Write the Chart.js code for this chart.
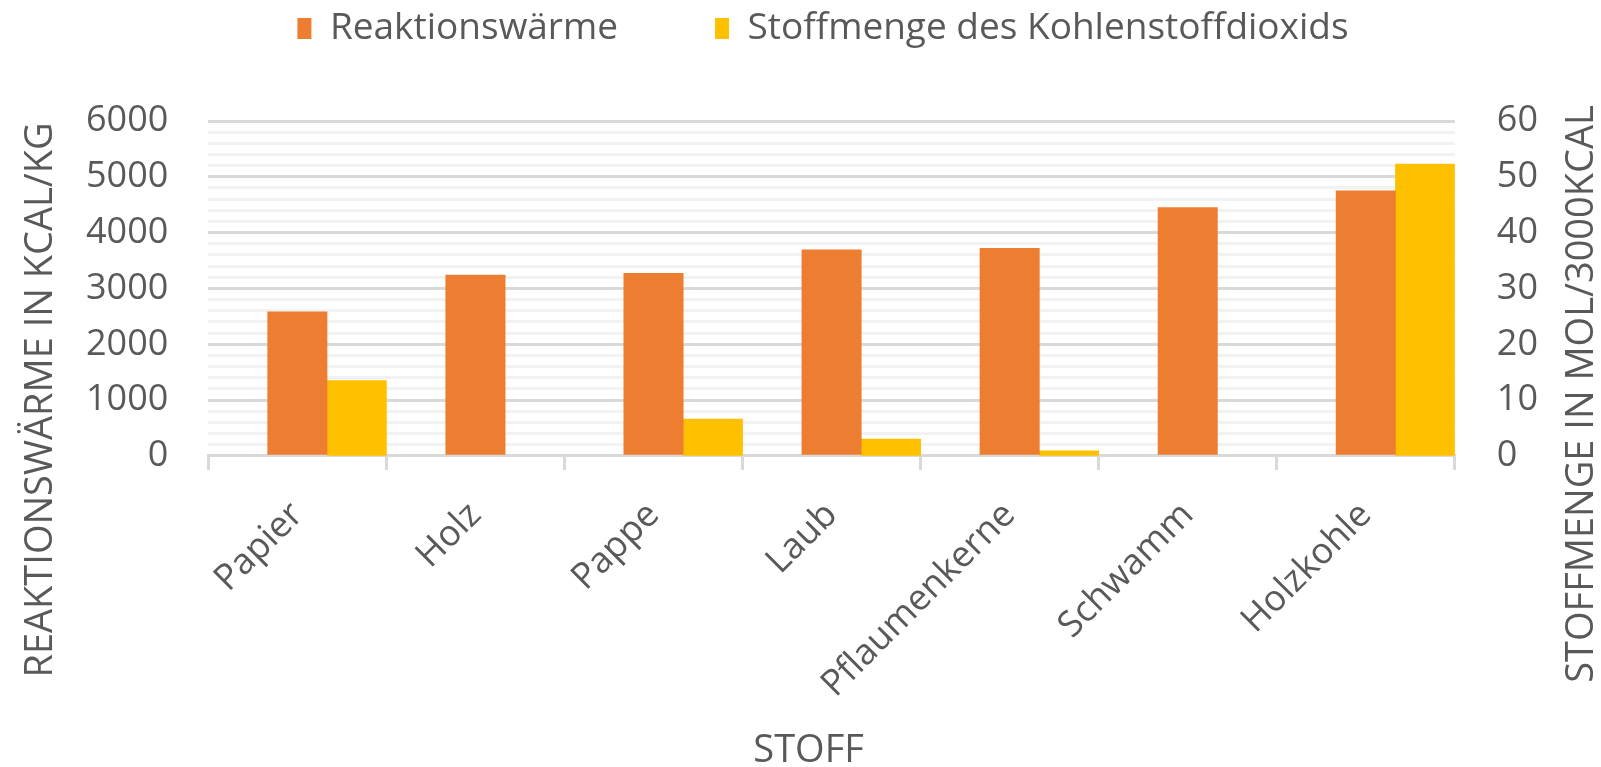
<!DOCTYPE html>
<html lang="de">
<head>
<meta charset="utf-8">
<title>Reaktionswärme und Stoffmenge</title>
<script src="https://cdn.jsdelivr.net/npm/chart.js@4.4.1/dist/chart.umd.min.js"></script>
<style>
    html, body { margin: 0; padding: 0; background: #ffffff; }
    #wrap { width: 1601px; height: 767px; }
</style>
</head>
<body>
<div id="wrap"><canvas id="stoff-chart"></canvas></div>
<script>
const kategorien = ["Papier", "Holz", "Pappe", "Laub", "Pflaumenkerne", "Schwamm", "Holzkohle"];
const reaktionswaerme = [2580, 3240, 3270, 3690, 3720, 4450, 4750];
const kohlendioxid = [13.5, null, 6.6, 3.0, 0.9, null, 52.3];
// leere Reihe, belegt wie im Original den ersten Platz jeder Gruppe
const leer = [null, null, null, null, null, null, null];

const linksTicks = [0, 1000, 2000, 3000, 4000, 5000, 6000];
const rechtsTicks = [0, 10, 20, 30, 40, 50, 60];

const titelLinks = "REAKTIONSWÄRME IN KCAL/KG";
const titelRechts = "STOFFMENGE IN MOL/3000KCAL";
const titelUnten = "STOFF";

Chart.defaults.font.size = 36;
Chart.defaults.font.family = "Open Sans";
Chart.defaults.color = "#595959";
Chart.defaults.animation = false;
Chart.defaults.plugins.tooltip.enabled = false;

// Abstand zwischen Legende und Diagramm
const legendAbstand = {
    id: "legendAbstand",
    beforeInit(chart) {
        const fit = chart.legend.fit;
        chart.legend.fit = function () {
            fit.call(this);
            this.height += 64;
        };
    }
};

// Achsentitel wie in Excel: beide senkrecht von unten nach oben gelesen
const achsenTitel = {
    id: "achsenTitel",
    afterDraw(chart) {
        const ctx = chart.ctx;
        const area = chart.chartArea;
        ctx.save();
        ctx.font = "38px 'Open Sans'";
        ctx.fillStyle = "#595959";
        ctx.textAlign = "center";
        ctx.textBaseline = "alphabetic";

        ctx.save();
        ctx.translate(52, area.bottom - 56);
        ctx.rotate(-Math.PI / 2);
        ctx.fillText(titelLinks, 0, 0);
        ctx.restore();

        ctx.save();
        ctx.translate(chart.width - 8, area.bottom - 62);
        ctx.rotate(-Math.PI / 2);
        ctx.fillText(titelRechts, 0, 0);
        ctx.restore();

        ctx.fillText(titelUnten, (area.left + area.right) / 2 - 23, chart.height - 5);
        ctx.restore();
    }
};

new Chart(document.getElementById("stoff-chart").getContext("2d"), {
    type: "bar",
    data: {
        labels: kategorien,
        datasets: [{
            label: "",
            data: leer,
            yAxisID: "y",
            backgroundColor: "rgba(0,0,0,0)"
        }, {
            label: "Reaktionswärme",
            data: reaktionswaerme,
            yAxisID: "y",
            backgroundColor: "#ED7D31"
        }, {
            label: "Stoffmenge des Kohlenstoffdioxids",
            data: kohlendioxid,
            yAxisID: "y1",
            backgroundColor: "#FFC000"
        }]
    },
    options: {
        responsive: true,
        maintainAspectRatio: false,
        categoryPercentage: 1,
        barPercentage: 1,
        layout: {
            padding: { top: -87, left: 66, right: 21, bottom: 37 }
        },
        plugins: {
            legend: {
                position: "top",
                labels: {
                    boxWidth: 14,
                    boxHeight: 21,
                    padding: 97,
                    color: "#595959",
                    font: { size: 37 },
                    filter: (item) => item.datasetIndex !== 0
                }
            }
        },
        scales: {
            x: {
                offset: true,
                grid: {
                    offset: true,
                    drawOnChartArea: false,
                    color: "#d9d9d9",
                    lineWidth: 3,
                    tickLength: 14
                },
                border: { color: "#d9d9d9", width: 3 },
                ticks: {
                    autoSkip: false,
                    minRotation: 45,
                    maxRotation: 45,
                    padding: 24
                }
            },
            y: {
                position: "left",
                min: 0,
                max: 6000,
                afterFit: (scale) => { scale.width -= 20; },
                grid: {
                    drawTicks: false,
                    lineWidth: 3,
                    color: (ctx) => ctx.tick && linksTicks.includes(ctx.tick.value) ? "#d9d9d9" : "#f2f2f2"
                },
                border: { display: false },
                ticks: {
                    stepSize: 200,
                    autoSkip: false,
                    padding: 40,
                    callback: (v) => linksTicks.includes(v) ? v : ""
                }
            },
            y1: {
                position: "right",
                min: 0,
                max: 60,
                grid: { drawOnChartArea: false, drawTicks: false },
                border: { display: false },
                ticks: {
                    stepSize: 10,
                    padding: 42,
                    callback: (v) => rechtsTicks.includes(v) ? v : ""
                }
            }
        }
    },
    plugins: [legendAbstand, achsenTitel]
});
</script>
</body>
</html>
